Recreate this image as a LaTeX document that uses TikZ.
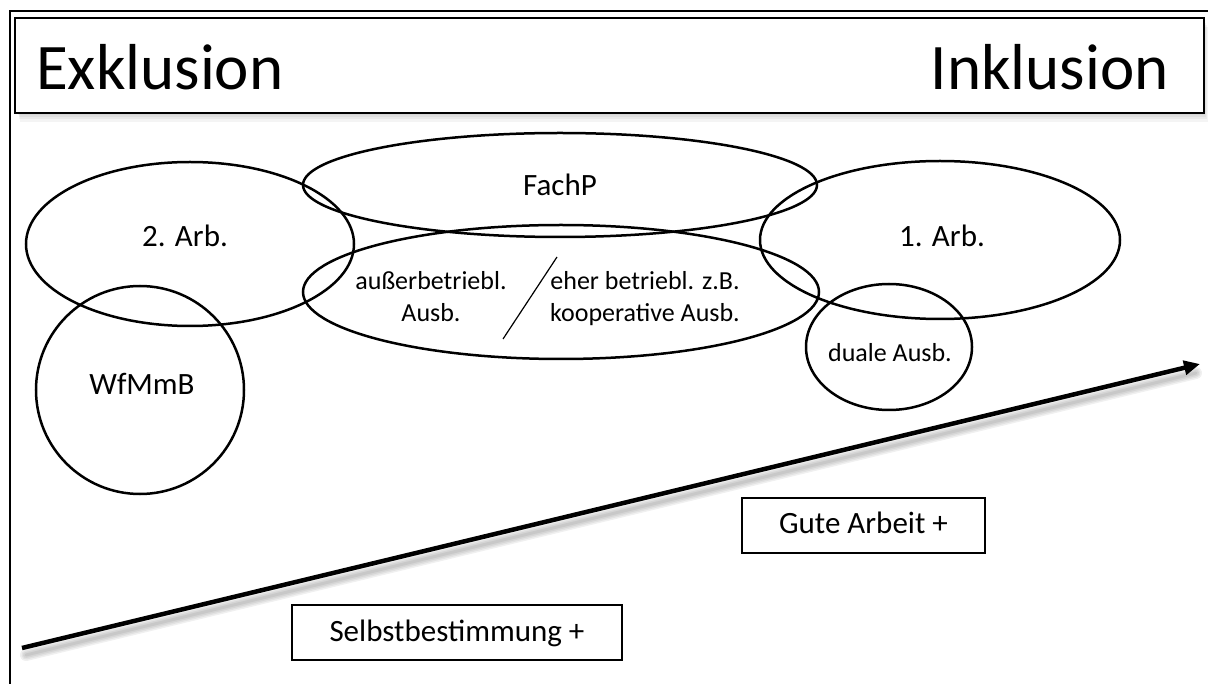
\documentclass[tikz,border=0pt]{standalone}
\usepackage{fontspec}
\setmainfont{Carlito}
\usetikzlibrary{arrows.meta,shapes.geometric}
\begin{document}
\begin{tikzpicture}[x=1pt,y=-1pt,
  oval/.style={ellipse,draw,line width=2.5pt,inner sep=0pt},
  lbl/.style={anchor=base,inner sep=0pt,font=\fontsize{31}{36}\selectfont},
  small/.style={anchor=base,inner sep=0pt,font=\fontsize{26}{32}\selectfont,align=center},
  plusbox/.style={draw,line width=1.5pt,inner sep=0pt}]
\useasboundingbox (0,0) rectangle (1208,684);
% outer frame
\coordinate (ftl) at (10,11);
\coordinate (ftr) at (1208,11);
\coordinate (fbl) at (10,684);
\draw[line width=2.5pt] (ftr) -- (ftl) -- (fbl);
% title box shadow
\foreach \w in {2,5,8,11}{
  \fill[black,opacity=0.045] (17+\w*0.3,20+\w*0.6) rectangle (1204+\w*0.4,113+\w*0.8);
}
\node[draw,fill=white,line width=2pt,minimum width=1189pt,minimum height=95pt,inner sep=0pt] (title) at (609.5,65.5) {};
\node[anchor=base west,inner sep=0pt,font=\fontsize{65}{70}\selectfont] (exk) at (36,90) {Exklusion};
\node[anchor=base east,inner sep=0pt,font=\fontsize{65}{70}\selectfont] (ink) at (1169,90) {Inklusion};
% ellipses
\node[oval,minimum width=328pt,minimum height=164pt] (arb2) at (190,244) {};
\node[oval,minimum width=514pt,minimum height=104pt] (fachp) at (560,185) {};
\node[oval,minimum width=516pt,minimum height=134pt] (ausb) at (561,292) {};
\node[oval,minimum width=360pt,minimum height=158pt] (arb1) at (940,240) {};
\node[oval,minimum width=208pt,minimum height=208pt] (wfm) at (140,390) {};
\node[oval,minimum width=166pt,minimum height=126pt] (duale) at (889,347) {};
% labels
\node[lbl] (t2) at (185,247) {2. Arb.};
\node[lbl] (tf) at (560,196) {FachP};
\node[lbl] (t1) at (942,247) {1. Arb.};
\node[lbl] (tw) at (142,395) {WfMmB};
\node[small] (tau) at (431,322) {außerbetriebl.\\Ausb.};
\node[small] (teh) at (645,322) {eher betriebl. z.B.\\kooperative Ausb.};
\node[small] (tdu) at (890,362) {duale Ausb.};
% slash
\coordinate (s1) at (557,257);
\coordinate (s2) at (503,339);
\draw[line width=1.2pt] (s1) -- (s2);
% arrow with shadow
\coordinate (a0) at (22,648);
\coordinate (a1) at (1200,364);
\coordinate (b0) at (26,655);
\coordinate (b1) at (1196,373);
\foreach \w in {3,6,9,12}{
  \draw[black,opacity=0.06,line width=\w pt,line cap=round] (b0) -- (b1);
}
\draw[line width=4.5pt,-{Triangle[length=16pt,width=14pt]}] (a0) -- (a1);
% boxes
\node[plusbox,minimum width=243pt,minimum height=55pt,fill=white] (gute) at (863.5,525.5) {};
\node[lbl] (tg) at (863.5,533) {Gute Arbeit +};
\node[plusbox,minimum width=330pt,minimum height=55pt,fill=white] (selbst) at (457,632.5) {};
\node[lbl] (ts) at (457,641) {Selbstbestimmung +};
\end{tikzpicture}
\end{document}
